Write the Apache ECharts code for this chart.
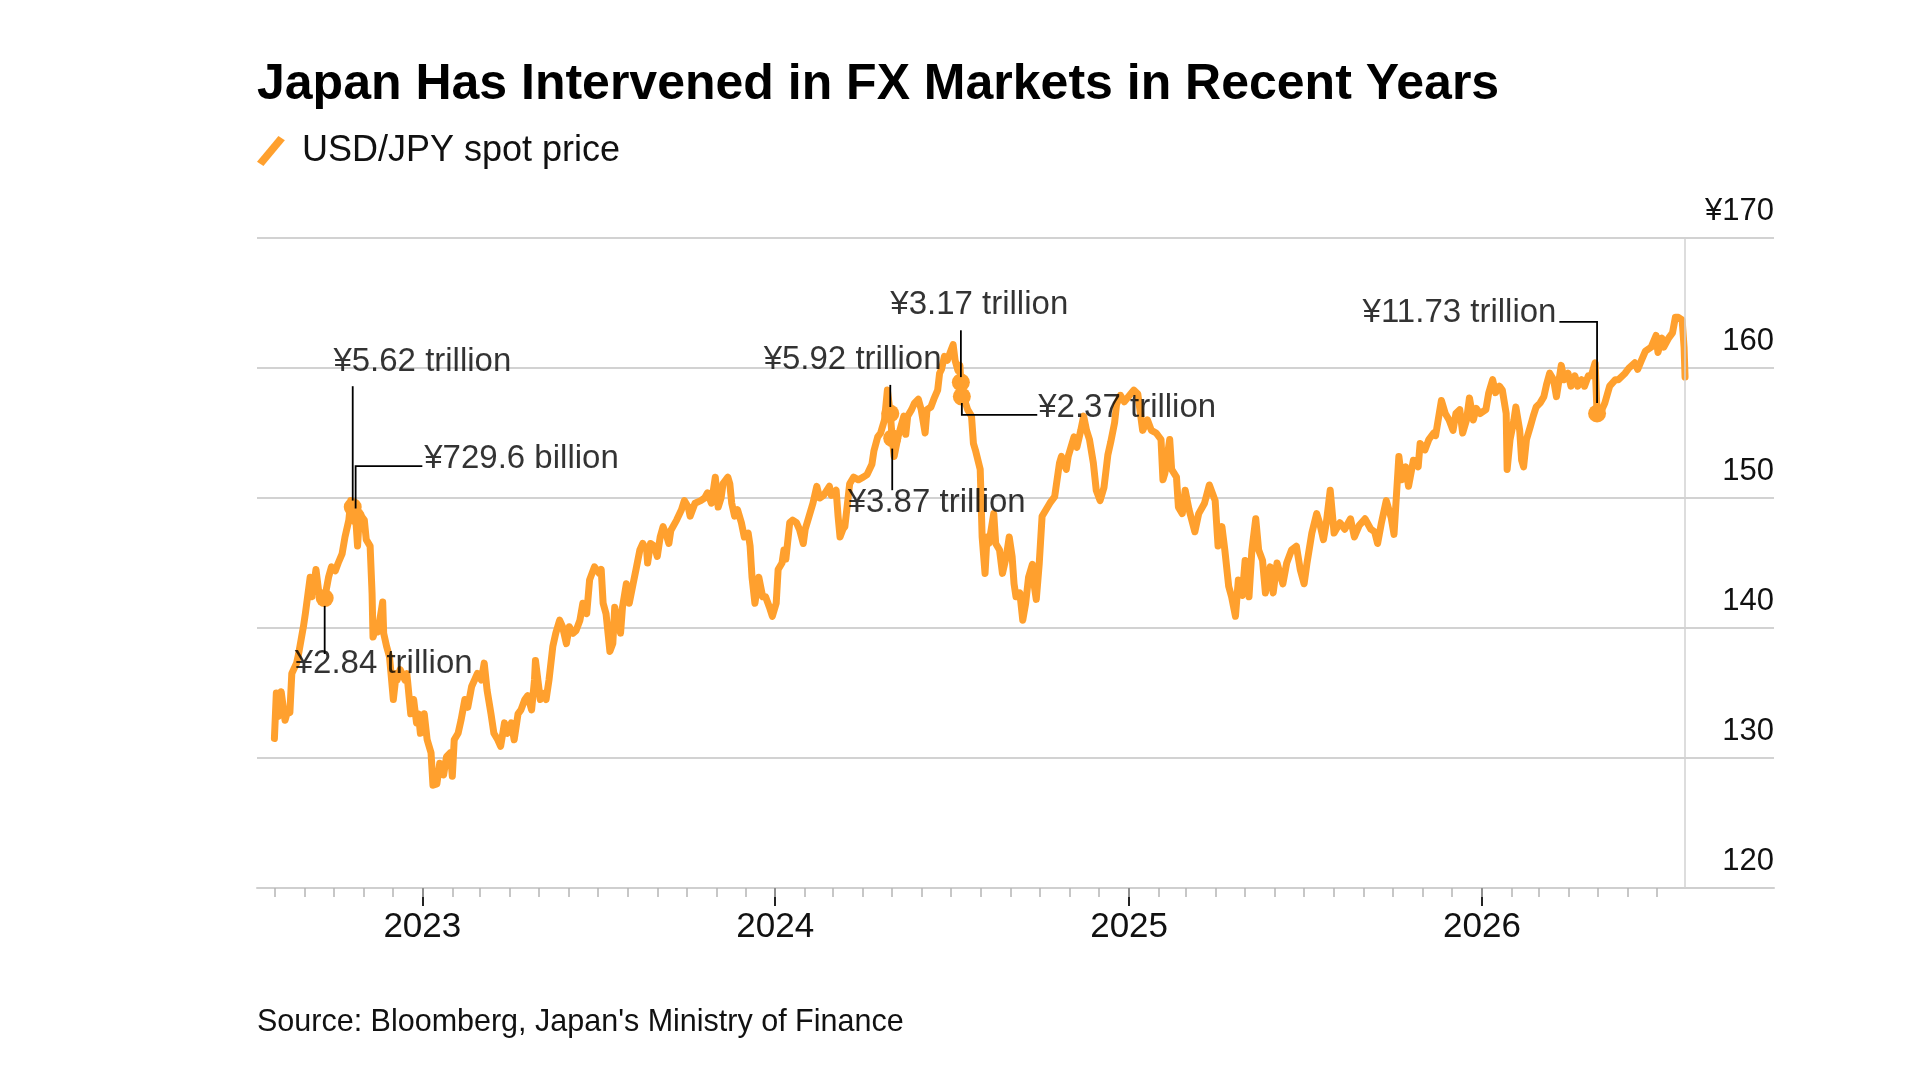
<!DOCTYPE html>
<html lang="en">
<head>
    <meta charset="UTF-8">
    <title>Japan Has Intervened in FX Markets in Recent Years</title>
    <script src="https://cdn.jsdelivr.net/npm/echarts@6/dist/echarts.min.js"></script>
    <style>
        html, body { margin: 0; padding: 0; background: #fff; }
        #main { width: 1920px; height: 1080px; }
    </style>
</head>
<body>
<div id="main"></div>
<script>
var FONT = '"Liberation Sans", Arial, Helvetica, sans-serif';
var ORANGE = '#ffa02e';

// USD/JPY spot (roughly every few trading days)
var dates = [
    '2022-08-01','2022-08-03','2022-08-05','2022-08-08','2022-08-12','2022-08-15','2022-08-17','2022-08-19','2022-08-24','2022-08-26',
    '2022-08-31','2022-09-02','2022-09-07','2022-09-09','2022-09-13','2022-09-16','2022-09-22','2022-09-26','2022-09-29','2022-10-03',
    '2022-10-06','2022-10-10','2022-10-13','2022-10-17','2022-10-19','2022-10-21','2022-10-24','2022-10-26','2022-10-28','2022-11-02',
    '2022-11-04','2022-11-08','2022-11-10','2022-11-11','2022-11-14','2022-11-16','2022-11-21','2022-11-22','2022-11-25','2022-11-28',
    '2022-11-29','2022-12-02','2022-12-05','2022-12-06','2022-12-09','2022-12-14','2022-12-16','2022-12-20','2022-12-23','2022-12-26',
    '2022-12-28','2022-12-30',
    '2023-01-03','2023-01-06','2023-01-10','2023-01-12','2023-01-16','2023-01-19','2023-01-23','2023-01-26','2023-01-30','2023-02-01',
    '2023-02-03','2023-02-07','2023-02-10','2023-02-14','2023-02-17','2023-02-21','2023-02-24','2023-02-27','2023-03-03','2023-03-06',
    '2023-03-09','2023-03-13','2023-03-16','2023-03-20','2023-03-23','2023-03-27','2023-03-30','2023-04-03','2023-04-06','2023-04-10',
    '2023-04-13','2023-04-17','2023-04-20','2023-04-24','2023-04-27','2023-04-28','2023-05-03','2023-05-05','2023-05-09','2023-05-12',
    '2023-05-16','2023-05-19','2023-05-23','2023-05-26','2023-05-30','2023-06-02','2023-06-06','2023-06-09','2023-06-13','2023-06-16',
    '2023-06-20','2023-06-23','2023-06-28','2023-07-03','2023-07-05','2023-07-07','2023-07-10','2023-07-14','2023-07-17','2023-07-19',
    '2023-07-21','2023-07-25','2023-07-27','2023-07-31','2023-08-03','2023-08-07','2023-08-10','2023-08-14','2023-08-17','2023-08-21',
    '2023-08-22','2023-08-25','2023-08-29','2023-09-01','2023-09-04','2023-09-07','2023-09-11','2023-09-13','2023-09-15','2023-09-21',
    '2023-09-26','2023-09-29','2023-10-03','2023-10-05','2023-10-10','2023-10-16','2023-10-20','2023-10-23','2023-10-27','2023-10-31',
    '2023-11-03','2023-11-06','2023-11-08','2023-11-13','2023-11-15','2023-11-17','2023-11-20','2023-11-23','2023-11-27','2023-11-30',
    '2023-12-04','2023-12-06','2023-12-08','2023-12-11','2023-12-15','2023-12-19','2023-12-22','2023-12-26','2023-12-29',
    '2024-01-02','2024-01-04','2024-01-08','2024-01-10','2024-01-12','2024-01-16','2024-01-19','2024-01-23','2024-01-26','2024-01-30',
    '2024-02-01','2024-02-05','2024-02-09','2024-02-13','2024-02-16','2024-02-20','2024-02-26','2024-02-28','2024-03-04','2024-03-06',
    '2024-03-08','2024-03-11','2024-03-13','2024-03-15','2024-03-18','2024-03-22','2024-03-27','2024-04-01','2024-04-05','2024-04-10',
    '2024-04-12','2024-04-16','2024-04-19','2024-04-23','2024-04-26','2024-04-29','2024-05-01','2024-05-03','2024-05-07','2024-05-10',
    '2024-05-13','2024-05-15','2024-05-17','2024-05-21','2024-05-24','2024-05-28','2024-05-31','2024-06-04','2024-06-06','2024-06-10',
    '2024-06-13','2024-06-17','2024-06-19','2024-06-21','2024-06-24','2024-06-27','2024-07-01','2024-07-03','2024-07-05','2024-07-08',
    '2024-07-10','2024-07-11','2024-07-12','2024-07-15','2024-07-18','2024-07-22','2024-07-24','2024-07-26','2024-07-31','2024-08-02',
    '2024-08-05','2024-08-07','2024-08-09','2024-08-14','2024-08-16','2024-08-20','2024-08-23','2024-08-27','2024-08-30','2024-09-02',
    '2024-09-04','2024-09-06','2024-09-10','2024-09-13','2024-09-16','2024-09-19','2024-09-23','2024-09-25','2024-09-27','2024-09-30',
    '2024-10-03','2024-10-07','2024-10-11','2024-10-16','2024-10-21','2024-10-23','2024-10-28','2024-10-30','2024-11-05','2024-11-08',
    '2024-11-12','2024-11-15','2024-11-18','2024-11-21','2024-11-25','2024-11-28','2024-12-02','2024-12-06','2024-12-10','2024-12-13',
    '2024-12-17','2024-12-19','2024-12-23','2024-12-27',
    '2025-01-06','2025-01-10','2025-01-15','2025-01-20','2025-01-24','2025-01-29','2025-02-03','2025-02-05','2025-02-07','2025-02-12',
    '2025-02-14','2025-02-19','2025-02-21','2025-02-25','2025-02-28','2025-03-04','2025-03-10','2025-03-14','2025-03-20','2025-03-25',
    '2025-03-31','2025-04-03','2025-04-07','2025-04-10','2025-04-14','2025-04-17','2025-04-21','2025-04-24','2025-04-28','2025-05-01',
    '2025-05-05','2025-05-08','2025-05-12','2025-05-15','2025-05-19','2025-05-22','2025-05-27','2025-05-30','2025-06-03','2025-06-09',
    '2025-06-13','2025-06-18','2025-06-23','2025-06-27','2025-07-01','2025-07-04','2025-07-09','2025-07-14','2025-07-17','2025-07-21',
    '2025-07-24','2025-07-28','2025-07-30','2025-08-01','2025-08-07','2025-08-12','2025-08-18','2025-08-22','2025-08-27','2025-09-02',
    '2025-09-08','2025-09-12','2025-09-15','2025-09-19','2025-09-24','2025-09-29','2025-10-02','2025-10-07','2025-10-10','2025-10-14',
    '2025-10-17','2025-10-22','2025-10-27','2025-10-29','2025-11-03','2025-11-07','2025-11-12','2025-11-14','2025-11-20','2025-11-24',
    '2025-11-28','2025-12-02','2025-12-05','2025-12-09','2025-12-12','2025-12-16','2025-12-19','2025-12-23','2025-12-26','2025-12-30',
    '2026-01-05','2026-01-08','2026-01-12','2026-01-15','2026-01-19','2026-01-22','2026-01-26','2026-01-27','2026-01-30','2026-02-03',
    '2026-02-05','2026-02-09','2026-02-11','2026-02-13','2026-02-16','2026-02-20','2026-02-23','2026-02-26','2026-03-02','2026-03-06',
    '2026-03-09','2026-03-12','2026-03-16','2026-03-19','2026-03-24','2026-03-27','2026-03-31','2026-04-03','2026-04-07','2026-04-10',
    '2026-04-14','2026-04-17','2026-04-21','2026-04-24','2026-04-28','2026-04-30','2026-05-05','2026-05-08','2026-05-13','2026-05-19',
    '2026-05-22','2026-05-29','2026-06-02','2026-06-08','2026-06-11','2026-06-15','2026-06-19','2026-06-25','2026-06-30','2026-07-02',
    '2026-07-06','2026-07-08','2026-07-13','2026-07-17','2026-07-20','2026-07-23','2026-07-27','2026-07-29','2026-07-30'
];
var prices = [
    131.5,135.0,133.2,135.1,132.9,133.7,133.5,136.5,137.3,138.0,
    140.1,141.1,143.9,142.4,144.5,142.7,142.3,143.9,144.7,144.4,
    145.0,145.7,147.0,148.3,149.8,149.3,148.6,146.3,148.8,148.3,
    146.8,146.3,142.7,139.3,140.0,139.7,142.0,139.6,138.6,137.8,
    137.0,134.5,136.5,136.0,136.8,136.0,136.5,133.4,134.5,132.7,
    133.4,131.9,
    133.4,131.4,130.4,127.9,128.0,129.6,128.7,130.1,130.4,128.6,
    131.4,131.9,132.9,134.5,133.9,135.5,136.0,136.5,136.0,137.3,
    135.2,133.4,131.9,131.4,130.9,132.7,131.9,132.7,131.4,133.4,
    133.7,134.5,134.8,133.7,136.0,137.5,134.5,135.0,134.5,136.0,
    138.6,139.6,140.6,140.1,138.8,140.1,139.6,139.8,140.6,141.9,
    141.1,143.7,144.7,144.2,144.5,141.9,141.1,138.2,138.8,141.6,
    140.9,139.6,141.6,143.4,141.9,143.4,144.5,146.0,146.5,146.0,
    145.0,146.5,146.3,145.5,147.0,147.8,147.0,146.5,147.5,148.3,
    149.1,149.8,149.3,148.6,149.6,149.8,150.0,150.4,149.6,151.6,
    149.3,150.0,151.1,151.6,151.1,149.6,148.6,149.1,148.1,147.0,
    147.3,146.3,143.9,141.9,143.9,142.4,142.4,141.6,140.9,
    141.9,144.5,145.0,146.0,145.3,148.1,148.3,148.1,147.6,146.5,
    147.6,148.6,149.6,150.9,150.0,150.2,150.9,150.2,150.6,148.6,
    147.0,147.6,147.8,149.1,151.1,151.6,151.4,151.6,151.8,152.6,
    153.6,154.7,155.0,156.0,158.3,156.5,154.6,153.2,154.7,155.5,
    156.3,154.9,156.3,156.8,157.3,157.6,156.8,155.0,156.8,157.0,
    157.6,158.3,159.6,159.9,160.9,160.6,161.4,161.8,160.6,159.8,
    160.2,158.9,157.8,157.5,156.8,156.3,154.2,153.7,152.2,147.0,
    144.2,147.0,146.5,148.8,146.5,146.0,144.2,145.5,147.0,145.5,
    143.4,142.4,142.7,140.6,141.9,143.9,144.9,143.2,142.2,144.9,
    148.6,149.1,149.6,150.1,152.7,153.2,152.2,153.2,154.7,153.9,
    155.2,156.3,155.2,154.5,152.7,150.6,149.8,150.8,153.3,154.3,
    155.8,157.2,157.9,157.4,
    158.3,158.0,155.2,156.0,155.2,155.0,154.5,151.4,151.9,154.5,
    152.2,151.6,149.3,148.8,150.6,149.1,147.4,148.8,149.6,151.0,
    149.8,146.3,147.8,146.0,143.2,142.4,140.9,143.7,142.5,145.2,
    142.4,146.0,148.4,146.0,145.2,142.7,144.7,142.7,145.0,143.4,
    145.0,146.0,146.3,144.5,143.4,145.0,147.3,148.8,148.1,146.8,
    148.1,150.6,150.7,147.3,148.1,147.6,148.4,147.0,147.9,148.4,
    147.6,147.4,146.5,148.1,149.8,148.5,147.2,153.2,151.4,152.4,
    150.9,152.9,152.4,154.2,153.7,154.5,155.0,154.8,157.5,156.5,
    156.0,155.2,156.5,156.8,155.0,156.0,157.7,156.0,156.9,156.5,
    156.8,158.1,159.1,158.1,158.6,158.3,156.5,152.2,154.5,156.0,
    157.0,155.2,152.9,152.4,154.5,155.5,156.3,157.0,157.3,157.8,
    158.8,159.6,159.1,157.8,160.2,159.1,159.6,158.6,159.4,158.6,
    159.1,158.6,159.4,159.4,160.4,156.5,156.8,157.3,158.6,159.1,
    159.1,159.6,160.0,160.4,159.9,160.6,161.3,161.6,162.5,161.2,
    162.3,161.6,162.3,162.7,163.9,163.9,163.7,161.6,159.3
];

// intervention days (dots on the line)
var interventionDates = ['2022-09-22','2022-10-21','2022-10-24','2024-04-29','2024-05-01','2024-07-11','2024-07-12','2026-04-30'];
var interventionPrices = [142.3, 149.3, 148.6, 156.5, 154.6, 158.9, 157.8, 156.5];

// annotation texts, where they sit (date, price) and which side they hang from
var annoTexts = ['¥2.84 trillion','¥5.62 trillion','¥729.6 billion','¥5.92 trillion','¥3.87 trillion','¥3.17 trillion','¥2.37 trillion','¥11.73 trillion'];
var annoDates = ['2022-08-22','2022-10-01','2023-01-03','2023-12-20','2024-03-16','2024-04-29','2024-09-29','2026-03-19'];
var annoPrices = [137.2, 160.5, 153.0, 160.65, 149.65, 164.85, 156.9, 164.2];
var annoSide = ['right','right','right','right','right','right','right','left'];

// leader lines, as (date, price) polylines
var leaders = [
    [['2022-09-22',141.7],['2022-09-22',138.0]],
    [['2022-10-21',158.6],['2022-10-21',149.8]],
    [['2022-10-24',149.2],['2022-10-24',152.45],['2023-01-01',152.45]],
    [['2024-04-29',158.7],['2024-04-29',157.0]],
    [['2024-05-01',153.8],['2024-05-01',150.6]],
    [['2024-07-11',162.9],['2024-07-11',159.3]],
    [['2024-07-12',157.3],['2024-07-12',156.4],['2024-09-28',156.4]],
    [['2026-04-30',157.3],['2026-04-30',163.55],['2026-03-22',163.55]]
];

var yearTicks = ['2023-01-01','2024-01-01','2025-01-01','2026-01-01'];
var axisStart = '2022-07-14';
var axisEnd = '2026-10-30';

function toTime(s) {
    var p = s.split('-');
    return new Date(+p[0], +p[1] - 1, +p[2]).getTime();
}

// monthly minor ticks
var monthTicks = [];
for (var y = 2022; y <= 2026; y++) {
    for (var m = 0; m < 12; m++) {
        var t = new Date(y, m, 1).getTime();
        if (t > toTime(axisStart) && t < toTime('2026-07-15')) monthTicks.push(t);
    }
}

var lineData = [];
for (var i = 0; i < dates.length; i++) {
    lineData.push([toTime(dates[i]), prices[i]]);
}
var dotData = [];
for (var i = 0; i < interventionDates.length; i++) {
    dotData.push([toTime(interventionDates[i]), interventionPrices[i]]);
}
var labelData = [];
for (var i = 0; i < annoTexts.length; i++) {
    labelData.push({
        name: annoTexts[i],
        value: [toTime(annoDates[i]), annoPrices[i]],
        label: { position: annoSide[i] }
    });
}
var leaderData = leaders.map(function (seg) {
    return { coords: seg.map(function (p) { return [toTime(p[0]), p[1]]; }) };
});

var chart = echarts.init(document.getElementById('main'));
chart.setOption({
    animation: false,
    backgroundColor: '#ffffff',
    textStyle: { fontFamily: FONT },
    title: [
        {
            text: 'Japan Has Intervened in FX Markets in Recent Years',
            left: 252,
            top: 55,
            textStyle: { fontSize: 50, fontWeight: 'bold', color: '#000', fontFamily: FONT }
        },
        {
            text: "Source: Bloomberg, Japan's Ministry of Finance",
            left: 252,
            top: 1002,
            textStyle: { fontSize: 30.5, fontWeight: 'normal', color: '#111', fontFamily: FONT }
        }
    ],
    legend: {
        data: ['USD/JPY spot price'],
        left: 257,
        top: 133,
        padding: 0,
        itemWidth: 30,
        itemHeight: 30,
        icon: 'path://M2,26 L22,2 L28,6 L8,30 Z',
        textStyle: { fontSize: 36, color: '#111', fontFamily: FONT, padding: [0, 0, 0, 11] }
    },
    grid: { left: 257, right: 146, top: 238, bottom: 192 },
    xAxis: [
        {
            type: 'value',
            min: toTime(axisStart),
            max: toTime(axisEnd),
            axisLine: { show: true, lineStyle: { color: '#cfcfcf', width: 2 } },
            axisTick: {
                show: true,
                customValues: yearTicks.map(toTime),
                length: 18,
                lineStyle: { color: '#222', width: 2 }
            },
            axisLabel: {
                customValues: yearTicks.map(toTime),
                formatter: function (v) { return String(new Date(v).getFullYear()); },
                fontSize: 35,
                color: '#111',
                margin: 22,
                fontFamily: FONT
            },
            splitLine: { show: false }
        },
        {
            type: 'value',
            min: toTime(axisStart),
            max: toTime(axisEnd),
            position: 'bottom',
            axisLine: { show: false },
            axisTick: {
                show: true,
                customValues: monthTicks,
                length: 9,
                lineStyle: { color: '#b5b5b5', width: 1.5 }
            },
            axisLabel: { show: false },
            splitLine: { show: false }
        }
    ],
    yAxis: {
        type: 'value',
        position: 'right',
        min: 120,
        max: 170,
        interval: 10,
        axisLine: { show: false },
        axisTick: { show: false },
        splitLine: { show: true, lineStyle: { color: '#d2d2d2', width: 2 } },
        axisLabel: {
            inside: true,
            margin: 0,
            verticalAlign: 'bottom',
            padding: [0, 0, 11, 0],
            fontSize: 31,
            color: '#111',
            fontFamily: FONT,
            formatter: function (v) { return v === 170 ? '¥170' : String(v); }
        }
    },
    series: [
        {
            name: 'USD/JPY spot price',
            type: 'line',
            data: lineData,
            showSymbol: false,
            symbol: 'none',
            color: ORANGE,
            lineStyle: { color: ORANGE, width: 7, join: 'round', cap: 'round' },
            silent: true,
            z: 2,
            markLine: {
                silent: true,
                symbol: 'none',
                label: { show: false },
                lineStyle: { color: '#d2d2d2', width: 1.5, type: 'solid' },
                data: [{ xAxis: toTime(dates[dates.length - 1]) }]
            }
        },
        {
            name: 'interventions',
            type: 'scatter',
            data: dotData,
            symbolSize: 18,
            itemStyle: { color: ORANGE, opacity: 1 },
            silent: true,
            z: 3
        },
        {
            name: 'leaders',
            type: 'lines',
            coordinateSystem: 'cartesian2d',
            polyline: true,
            data: leaderData,
            lineStyle: { color: '#000', width: 1.8, opacity: 1 },
            silent: true,
            z: 4
        },
        {
            name: 'amounts',
            type: 'scatter',
            data: labelData,
            symbolSize: 0,
            itemStyle: { color: 'transparent' },
            label: {
                show: true,
                distance: 0,
                formatter: '{b}',
                fontSize: 33,
                color: '#000',
                fontFamily: FONT
            },
            silent: true,
            z: 5
        }
    ]
});
</script>
</body>
</html>
